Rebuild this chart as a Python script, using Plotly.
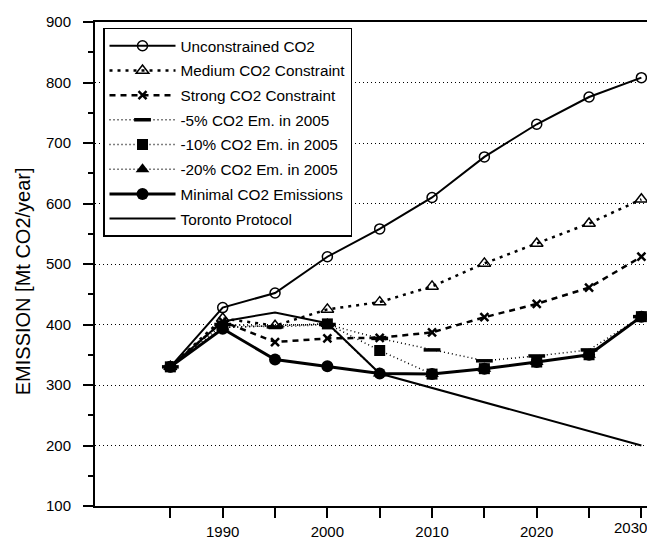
import plotly.graph_objects as go

years = [1985, 1990, 1995, 2000, 2005, 2010, 2015, 2020, 2025, 2030]

unconstrained = [330, 428, 452, 512, 558, 610, 677, 731, 776, 808]
medium = [330, 410, 398, 425, 437, 463, 501, 534, 567, 607]
strong = [330, 405, 371, 377, 378, 387, 412, 434, 461, 512]
minus5 = [330, 400, 396, 400, 377, 358, 340, 348, 358, 413]
minus10 = [330, 395, None, 401, 357, 318, 327, 338, 350, 413]
minus20 = [330, 395, None, 401, 319, 318, 327, 338, 350, 413]
minimal = [330, 393, 342, 331, 319, 318, 327, 338, 350, 413]
toronto = [330, 405, 420, 402, 319, 295, 271, 248, 224, 200]

names = [
    "Unconstrained CO2",
    "Medium CO2 Constraint",
    "Strong CO2 Constraint",
    "-5% CO2 Em. in 2005",
    "-10% CO2 Em. in 2005",
    "-20% CO2 Em. in 2005",
    "Minimal CO2 Emissions",
    "Toronto Protocol",
]

y_ticks = [100, 200, 300, 400, 500, 600, 700, 800, 900]
x_ticks = [1990, 2000, 2010, 2020, 2030]
y_title = "EMISSION [Mt CO2/year]"

FONT = "Liberation Sans, Arial, sans-serif"
K = "black"

styles = [
    dict(data=unconstrained, mode="lines+markers", line=dict(color=K, width=2),
         marker=dict(symbol="circle-open", size=10, line=dict(width=1.5, color=K), color=K)),
    dict(data=medium, mode="lines+markers", line=dict(color=K, width=2.5, dash="3px,5px"),
         marker=dict(symbol="triangle-up-open", size=11, line=dict(width=1.5, color=K), color=K)),
    dict(data=strong, mode="lines+markers", line=dict(color=K, width=2.5, dash="6px,5px"),
         marker=dict(symbol="x-thin-open", size=8, line=dict(width=2.5, color=K), color=K)),
    dict(data=minus5, mode="lines+markers", line=dict(color=K, width=1.5, dash="1px,3px"),
         marker=dict(symbol="line-ew-open", size=12, line=dict(width=3.5, color=K), color=K)),
    dict(data=minus10, mode="lines+markers", line=dict(color=K, width=1.5, dash="1px,3px"),
         marker=dict(symbol="square", size=11, color=K)),
    dict(data=minus20, mode="lines+markers", line=dict(color=K, width=1.5, dash="1px,3px"),
         marker=dict(symbol="triangle-up", size=12, color=K)),
    dict(data=minimal, mode="lines+markers", line=dict(color=K, width=3),
         marker=dict(symbol="circle", size=12, color=K)),
    dict(data=toronto, mode="lines", line=dict(color=K, width=2), marker=None),
]

fig = go.Figure()
for i, (nm, st) in enumerate(zip(names, styles)):
    kw = dict(x=years, y=st["data"], name=nm, mode=st["mode"], line=st["line"],
              connectgaps=True, legendgroup="g%d" % i)
    if st["marker"] is not None:
        kw["marker"] = st["marker"]
    fig.add_trace(go.Scatter(**kw))

# last x label sits at the right edge: draw it right-aligned so it is not clipped
x_text = [str(v) for v in x_ticks[:-1]] + [""]
fig.add_annotation(
    x=x_ticks[-1], xref="x", y=0, yref="paper", yanchor="top",
    xanchor="right", xshift=8, yshift=-11, text=str(x_ticks[-1]),
    showarrow=False, font=dict(family=FONT, size=15, color=K),
)
# axis title, placed slightly below centre like the reference
fig.add_annotation(
    x=-0.128, xref="paper", y=0.465, yref="paper", xanchor="center", yanchor="middle",
    text=y_title, textangle=-90, showarrow=False,
    font=dict(family=FONT, size=20, color=K),
)

# page body has an 8px default margin, so the figure is offset by 8px
fig.update_layout(
    width=647, height=533,
    margin=dict(l=87, r=0, t=14, b=35),
    paper_bgcolor="white", plot_bgcolor="white",
    font=dict(family=FONT, color=K, size=15),
    showlegend=True,
    legend=dict(
        x=0.0143, y=0.988, xanchor="left", yanchor="top",
        bordercolor=K, borderwidth=1.5, bgcolor="white",
        font=dict(family=FONT, size=15.3, color=K),
        traceorder="grouped", tracegroupgap=1.8,
        itemwidth=66, itemsizing="trace",
    ),
    xaxis=dict(
        range=[1977.8, 2031.3], automargin=False,
        tickmode="array", tickvals=x_ticks, ticktext=x_text,
        ticks="outside", ticklen=10, tickwidth=1.5, tickcolor=K,
        minor=dict(ticks="outside", ticklen=10, tickwidth=1.5, tickcolor=K,
                   tickmode="array", tickvals=[1985, 1995, 2005, 2015, 2025]),
        showline=True, linecolor=K, linewidth=2, mirror=True,
        showgrid=False, zeroline=False,
        ticklabelstandoff=1, ticklabeloverflow="allow",
        tickfont=dict(family=FONT, size=15, color=K),
    ),
    yaxis=dict(
        range=[100, 900], automargin=False,
        tickmode="array", tickvals=y_ticks, ticktext=[str(v) for v in y_ticks],
        ticks="outside", ticklen=10, tickwidth=1.5, tickcolor=K,
        minor=dict(ticks="outside", ticklen=5, tickwidth=1.5, tickcolor=K, dtick=50,
                   showgrid=False),
        showline=True, linecolor=K, linewidth=2,
        showgrid=True, gridcolor=K, gridwidth=1, griddash="1px,3px",
        zeroline=False,
        ticklabelstandoff=9, ticklabeloverflow="allow",
        tickfont=dict(family=FONT, size=15, color=K),
    ),
)

fig.write_html("out.html")
